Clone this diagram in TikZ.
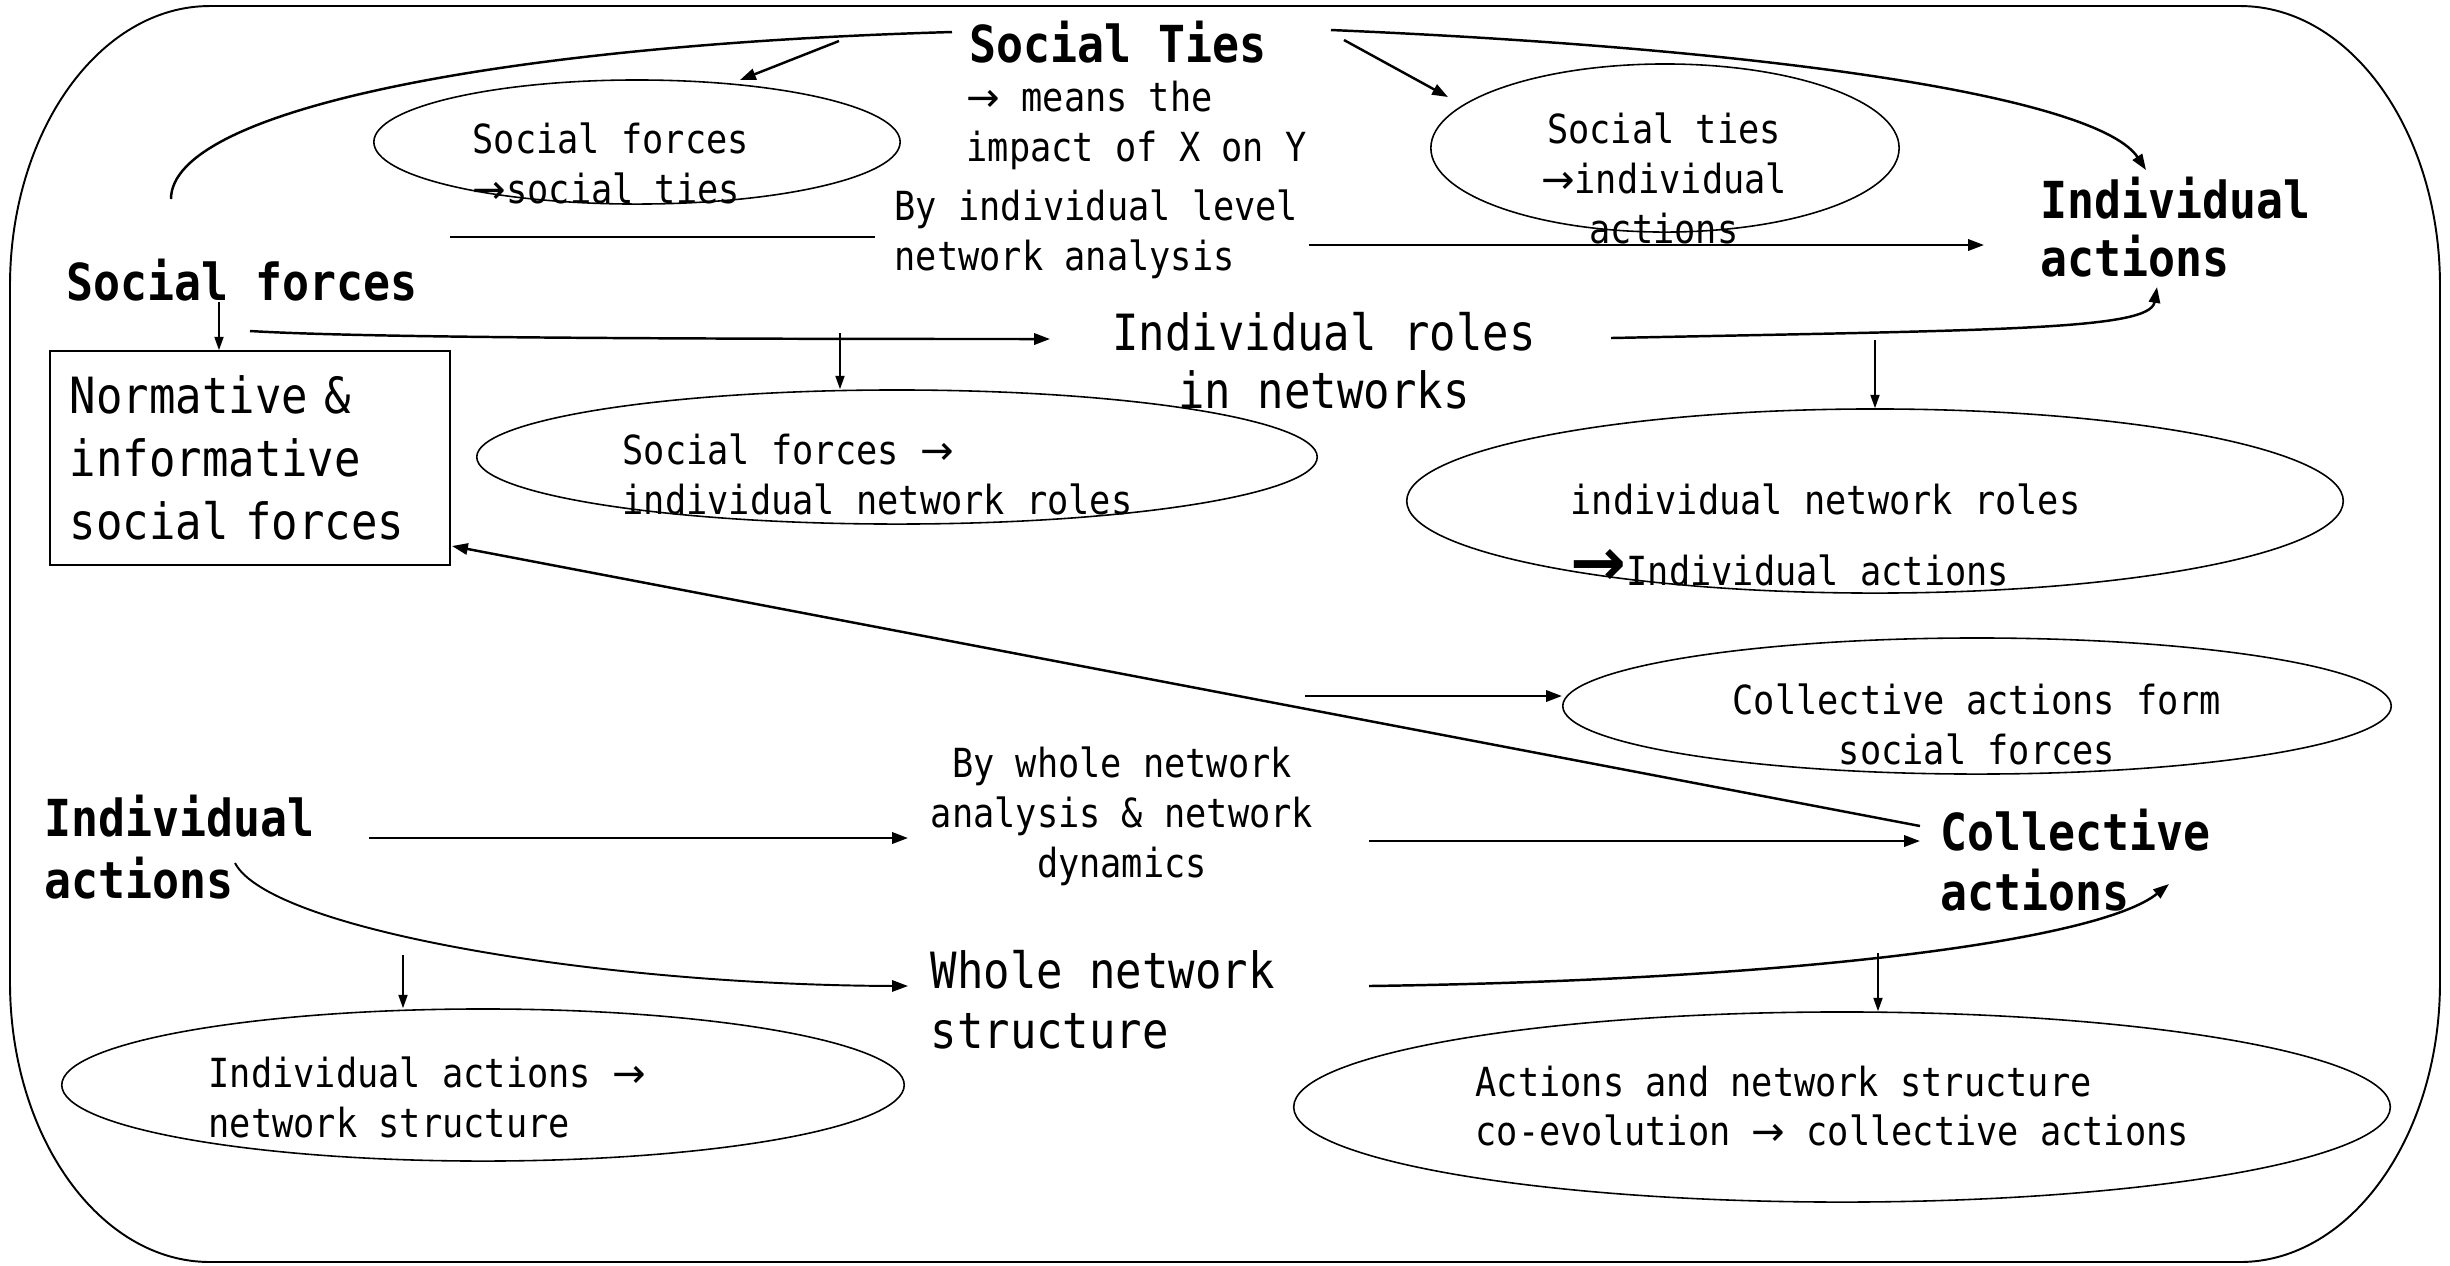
\documentclass[tikz,border=0pt]{standalone}
\usepackage{fontspec}
\setmainfont{DejaVu Sans Mono}[FakeStretch=0.88]
\newfontfamily\arrowfont{DejaVu Sans}
\usetikzlibrary{arrows.meta,shapes.geometric}
\newcommand{\rarr}{{\arrowfont →}}
\newcommand{\bigarr}{{\fontsize{19pt}{19pt}\selectfont\arrowfont\bfseries\smash{→}}}
\begin{document}
\begin{tikzpicture}[x=0.01cm,y=-0.01cm,
  txt/.style={inner sep=0pt, align=left},
  sm/.style={txt, font={\fontsize{11.4pt}{14.2pt}\selectfont}},
  md/.style={txt, font={\fontsize{14.2pt}{17pt}\selectfont}},
  bg/.style={txt, font={\fontsize{14.5pt}{16.5pt}\selectfont\bfseries}},
  ell/.style={draw, ellipse, line width=0.45pt, inner sep=0pt},
  conn/.style={line width=0.7pt},
  arr/.style={conn, -{Triangle[length=4.5pt,width=3.2pt]}},
  drop/.style={line width=0.4pt, -{Triangle[length=3.8pt,width=2.6pt]}}]
\useasboundingbox (0,0) rectangle (2450,1265);
% outer frame
\draw[line width=0.55pt] (210,6) -- (2240,6) .. controls (2350.5,6) and (2440,131.4) .. (2440,286)
  -- (2440,982) .. controls (2440,1136.6) and (2350.5,1262) .. (2240,1262)
  -- (210,1262) .. controls (99.5,1262) and (10,1136.6) .. (10,982)
  -- (10,286) .. controls (10,131.4) and (99.5,6) .. (210,6) -- cycle;

% ellipses
\node[ell, minimum width=5.26cm, minimum height=1.24cm] (e1) at (637,142) {};
\node[sm, anchor=west] (t1) at (472,163) {Social forces\\\rarr social ties};
\node[ell, minimum width=4.68cm, minimum height=1.68cm] (e2) at (1665,148) {};
\node[sm, align=center] (t2) at (1664,178) {Social ties\\\rarr individual\\actions};
\node[ell, minimum width=8.40cm, minimum height=1.34cm] (e3) at (897,457) {};
\node[sm, anchor=west] (t3) at (622,474) {Social forces \rarr\\individual network roles};
\node[ell, minimum width=9.36cm, minimum height=1.84cm] (e4) at (1875,501) {};
\node[sm, anchor=west] (t4) at (1570,535) {individual network roles\\[6pt]\bigarr Individual actions};
\node[ell, minimum width=8.28cm, minimum height=1.36cm] (e5) at (1977,706) {};
\node[sm, align=center] (t5) at (1977,724) {Collective actions form\\social forces};
\node[ell, minimum width=8.42cm, minimum height=1.52cm] (e6) at (483,1085) {};
\node[sm, anchor=west] (t6) at (208,1097) {Individual actions \rarr\\network structure};
\node[ell, minimum width=10.96cm, minimum height=1.90cm] (e7) at (1842,1107) {};
\node[sm, anchor=west] (t7) at (1475,1106) {Actions and network structure\\co-evolution \rarr{} collective actions};

% box
\node[draw, line width=0.45pt, minimum width=4cm, minimum height=2.14cm, text width=3.6cm,
  align=left, inner sep=0pt, font={\fontsize{14.2pt}{17.9pt}\selectfont}] (box) at (250,458)
  {Normative \&\\informative\\social forces};

% text nodes
\node[bg, anchor=west] (ST) at (969,42) {Social Ties};
\node[sm, anchor=west] (note) at (966,125) {\rarr{} means the\\impact of X on Y};
\node[sm, anchor=west] (byind) at (894,234) {By individual level\\network analysis};
\node[bg, anchor=west] (IA1) at (2040,227) {Individual\\actions};
\node[bg, anchor=west] (SF) at (66,280) {Social forces};
\node[md, align=center, font={\fontsize{14.2pt}{16.5pt}\selectfont}] (IR) at (1324,361) {Individual roles\\in networks};
\node[bg, anchor=west, font={\fontsize{14.5pt}{17pt}\selectfont\bfseries}] (CA) at (1940,860) {Collective\\actions};
\node[sm, align=center] (BW) at (1122,816) {By whole network\\analysis \& network\\dynamics};
\node[bg, anchor=west, font={\fontsize{14.5pt}{17.5pt}\selectfont\bfseries}] (IA2) at (44,847) {Individual\\actions};
\node[md, anchor=west] (WN) at (930,1000) {Whole network\\structure};

% coordinates for free ends
\coordinate (a1) at (171,199); \coordinate (a2) at (952,32);
\coordinate (b1) at (839,41);  \coordinate (b2) at (740,80);
\coordinate (c1) at (1344,40); \coordinate (c2) at (1448,97);
\coordinate (d1) at (1331,30); \coordinate (d2) at (2146,170);
\coordinate (ea) at (450,237); \coordinate (eb) at (875,237);
\coordinate (ec) at (1309,245); \coordinate (ed) at (1984,245);
\coordinate (f1) at (219,0);
\coordinate (g1) at (250,331); \coordinate (g2) at (1050,339);
\coordinate (h1) at (840,333);
\coordinate (i1) at (1611,338); \coordinate (i2) at (2157,287);
\coordinate (j1) at (1875,340);
\coordinate (k1) at (1920,826); \coordinate (k2) at (452,546);
\coordinate (l1) at (1305,696);
\coordinate (m1) at (369,838); \coordinate (m2) at (908,838);
\coordinate (n1) at (1369,841); \coordinate (n2) at (1920,841);
\coordinate (o1) at (235,863); \coordinate (o2) at (908,986);
\coordinate (p1) at (403,955);
\coordinate (q1) at (1369,986); \coordinate (q2) at (2169,884);
\coordinate (r1) at (1878,953);

% connectors
\draw[conn] (a1) .. controls (171,110) and (500,45) .. (a2);
\draw[arr] (b1) -- (b2);
\draw[arr] (c1) -- (c2);
\draw[arr] (d1) .. controls (1800,50) and (2100,100) .. (d2);
\draw[conn] (ea) -- (eb);
\draw[arr] (ec) -- (ed);
\draw[drop] (SF.south -| f1) -- (box.north -| f1);
\draw[arr] (g1) .. controls (350,337) and (600,339) .. (g2);
\draw[drop] (h1) -- (h1 |- e3.north);
\draw[arr] (i1) .. controls (2000,330) and (2150,330) .. (i2);
\draw[drop] (j1) -- (e4.north);
\draw[arr] (k1) -- (k2);
\draw[arr] (l1) -- (e5.west |- l1);
\draw[arr] (m1) -- (m2);
\draw[arr] (n1) -- (n2);
\draw[arr, line width=0.55pt] (o1) .. controls (270,930) and (600,985) .. (o2);
\draw[drop] (p1) -- (p1 |- e6.north);
\draw[arr] (q1) .. controls (1800,980) and (2100,940) .. (q2);
\draw[drop] (r1) -- (r1 |- e7.north);
\end{tikzpicture}
\end{document}
